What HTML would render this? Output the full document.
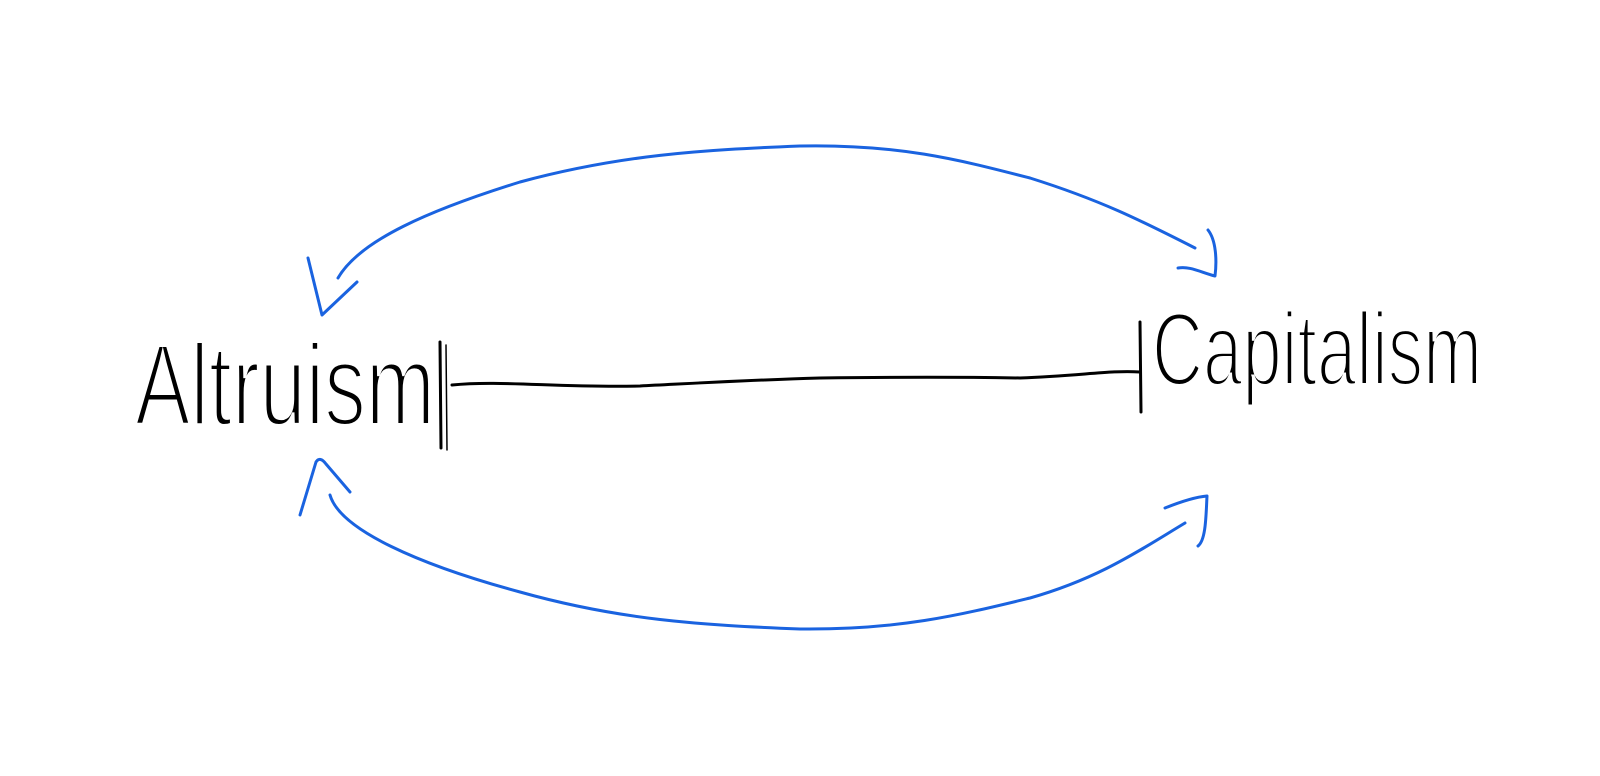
<!DOCTYPE html>
<html><head><meta charset="utf-8"><style>
html,body{margin:0;padding:0;background:#fff;width:1600px;height:776px;overflow:hidden}
svg{display:block}
</style></head><body>
<svg width="1600" height="776" viewBox="0 0 1600 776" xmlns="http://www.w3.org/2000/svg">
<g fill="none" stroke-linecap="round" stroke-linejoin="round">
  <path d="M338,278 C360,240 430,210 520,182 C620,155 700,150 800,146 C900,144 960,160 1030,178 C1100,200 1140,220 1195,248" stroke="#1a63e0" stroke-width="3"/>
  <path d="M308,258 L322,315 L357,282" stroke="#1a63e0" stroke-width="3"/>
  <path d="M1208,230 C1216,240 1217,260 1215,276 C1200,272 1190,266 1178,268" stroke="#1a63e0" stroke-width="3"/>
  <path d="M330,495 C340,530 420,565 520,592 C620,620 700,625 800,629 C900,630 960,615 1030,598 C1100,578 1140,550 1185,523" stroke="#1a63e0" stroke-width="3"/>
  <path d="M300,515 L316,462 Q320,456 326,464 L350,492" stroke="#1a63e0" stroke-width="3"/>
  <path d="M1165,508 C1180,502 1195,497 1207,496 C1206,515 1206,540 1198,546" stroke="#1a63e0" stroke-width="3"/>
  <path d="M452,385 C500,380 560,388 640,386 C700,383 750,380 820,378 C900,377 960,377 1020,378 C1080,376 1110,370 1140,372" stroke="#000" stroke-width="3"/>
  <path d="M440,342 L441,448" stroke="#000" stroke-width="3"/>
  <path d="M446,345 L447,450" stroke="#000" stroke-width="1.5"/>
  <path d="M1140,322 L1141,412" stroke="#000" stroke-width="3"/>
</g>
<text x="135" y="425" font-family="Liberation Sans, sans-serif" font-size="116" textLength="300" lengthAdjust="spacingAndGlyphs" fill="#000" stroke="#fff" stroke-width="4" paint-order="fill">Altruism</text>
<text x="1152" y="385" font-family="Liberation Sans, sans-serif" font-size="104" textLength="330" lengthAdjust="spacingAndGlyphs" fill="#000" stroke="#fff" stroke-width="4" paint-order="fill">Capitalism</text>
</svg>
</body></html>
